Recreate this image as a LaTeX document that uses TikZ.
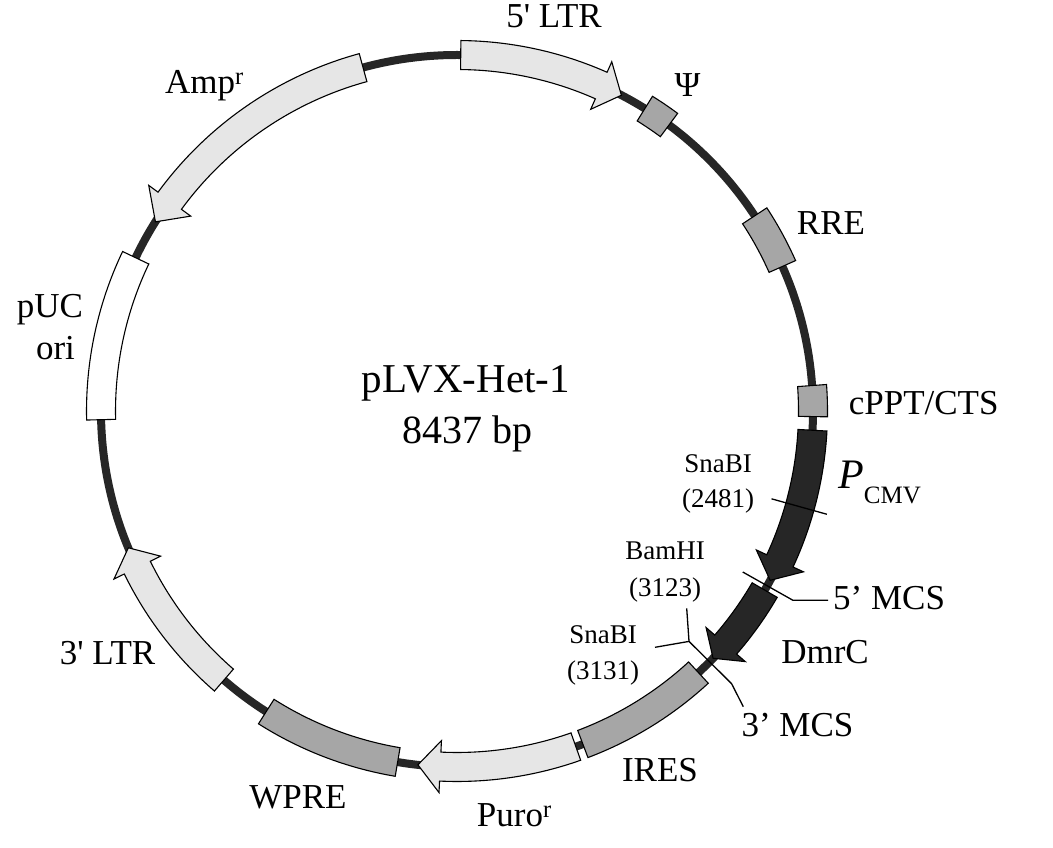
\documentclass[tikz,border=0pt]{standalone}
\usepackage{fontspec}
\setmainfont{Liberation Serif}[Ligatures=TeXOff]
\definecolor{ink}{HTML}{262626}
\definecolor{lgray}{HTML}{E6E6E6}
\definecolor{mgray}{HTML}{A6A6A6}
\tikzset{
  feat/.style={draw=black, line width=1.1pt, line join=miter},
  lbl/.style={font=\fontsize{35}{42}\selectfont, inner sep=0pt, anchor=base},
  site/.style={font=\fontsize{27}{35}\selectfont, inner sep=0pt, anchor=base},
  leader/.style={draw=black, line width=1.3pt},
  backbone/.style={draw=ink, line width=8pt},
}
% arrow: fill, tail angle, head-base angle, tip angle
\newcommand\featarrow[4]{%
  \draw[feat, fill=#1] (#2:370.5) arc[start angle=#2, end angle=#3, radius=370.5]
    -- (#3:382) -- (#4:356) -- (#3:330) -- (#3:341.5)
    arc[start angle=#3, end angle=#2, radius=341.5] -- cycle;}
% box: fill, start angle, end angle
\newcommand\featbox[3]{%
  \draw[feat, fill=#1] (#2:370.5) arc[start angle=#2, end angle=#3, radius=370.5]
    -- (#3:341.5) arc[start angle=#3, end angle=#2, radius=341.5] -- cycle;}
\begin{document}
\begin{tikzpicture}[x=1pt,y=1pt]
\useasboundingbox (0,0) rectangle (1053,847);
\begin{scope}[shift={(457,436)}]
  \draw[backbone] (0,0) circle[radius=356];
  % features
  \featarrow{lgray}{89.4}{66.1}{62.5}      % 5' LTR
  \featbox{mgray}{58.15}{53.45}            % Psi
  \featbox{mgray}{33.25}{23.95}            % RRE
  \featbox{mgray}{4.1}{-0.9}               % cPPT/CTS
  \featarrow{ink}{-3.1}{-24.9}{-28.4}      % P CMV
  \featarrow{ink}{-30.2}{-41}{-44}         % DmrC
  \featbox{mgray}{-47.3}{-69.3}            % IRES
  \featarrow{lgray}{-70.5}{-92.7}{-96.3}   % Puro
  \featbox{mgray}{-99.6}{-122.4}           % WPRE
  \featarrow{lgray}{-130.9}{-153.9}{-157.4}% 3' LTR
  \featbox{white}{181.4}{154.5}            % pUC ori
  \featarrow{lgray}{105.3}{143.8}{147.9}   % Amp
  % sites
  \coordinate (s1i) at (-15.6:326.6);
  \coordinate (s1o) at (-15.6:384);
  \coordinate (m5i) at (-29.4:328);
  \coordinate (m5o) at (-29.4:385.5);
  \coordinate (m3i) at (-44.8:327);
  \coordinate (m3o) at (-44.8:387);
  \coordinate (m3e) at (286.3,-295.7);
  \coordinate (bamtop) at (229.7,-197.3);
  \coordinate (snaleft) at (198,-236.3);
\end{scope}
% labels
\node[lbl] (l5ltr) at (554,819) {5' LTR};
\node[lbl] (lpsi) at (687.5,750) {Ψ};
\node[lbl] (lrre) at (831,612) {RRE};
\node[lbl] (lcppt) at (923.7,432.7) {cPPT/CTS};
\node[lbl, anchor=base west] (lpcmv) at (838,358) {{\fontsize{42}{50}\selectfont\itshape P}\raisebox{-15pt}{\fontsize{25}{30}\selectfont CMV}};
\node[site] (sna1a) at (718,374) {SnaBI};
\node[site] (sna1b) at (718,339) {(2481)};
\node[site] (bama) at (665,287) {BamHI};
\node[site] (bamb) at (665,250) {(3123)};
\node[site] (sna2a) at (603,203) {SnaBI};
\node[site] (sna2b) at (603,167) {(3131)};
\node[lbl, anchor=base west] (l5mcs) at (833,237) {5’ MCS};
\node[lbl] (ldmrc) at (825,183.7) {DmrC};
\node[lbl] (l3mcs) at (797.5,110.3) {3’ MCS};
\node[lbl] (lires) at (660,66) {IRES};
\node[lbl, anchor=base west] (lpuro) at (476.7,20.3) {Puro\textsuperscript{r}};
\node[lbl] (lwpre) at (298,38.7) {WPRE};
\node[lbl] (l3ltr) at (107.5,182) {3' LTR};
\node[lbl] (lpuc) at (50,529.7) {pUC};
\node[lbl] (lori) at (55.5,487) {ori};
\node[lbl, anchor=base west] (lamp) at (165,753.7) {Amp\textsuperscript{r}};
\node[lbl, font=\fontsize{41}{48}\selectfont] (ltitle) at (465.8,454.7) {pLVX-Het-1};
\node[lbl, font=\fontsize{40}{48}\selectfont] (lsize) at (467.5,403.7) {8437 bp};
% leaders
\draw[leader] (s1i) -- (s1o);
\draw[leader] (m5i) -- (m5o) -- ([xshift=-5pt]l5mcs.west |- m5o);
\draw[leader] (m3i) -- (m3o) -- (m3e);
\draw[leader] (bamtop) -- (m3i) -- (snaleft);
\end{tikzpicture}
\end{document}
